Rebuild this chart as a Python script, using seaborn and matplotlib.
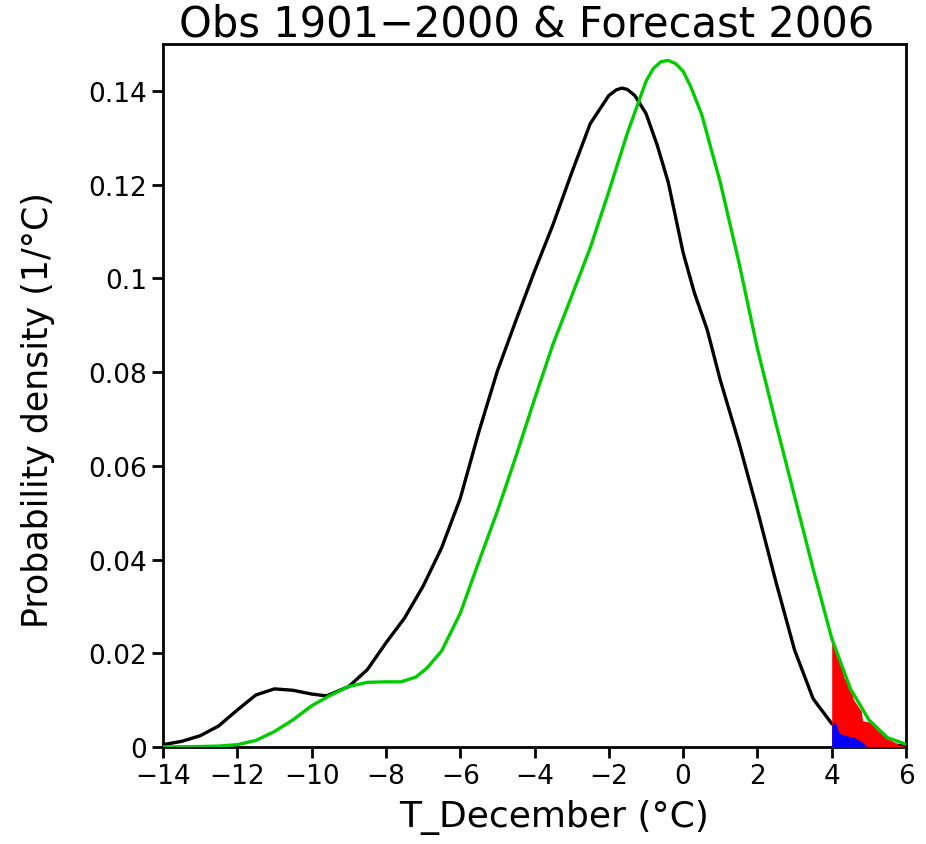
import numpy as np
import pandas as pd
import matplotlib
matplotlib.use("Agg")
import matplotlib.pyplot as plt
import seaborn as sns

# Observed 1901-2000 density (black)
obs_x = [-14.0, -13.5, -13.0, -12.5, -12.0, -11.5, -11.0, -10.5, -10.0, -9.6,
         -9.0, -8.5, -8.0, -7.5, -7.0, -6.5, -6.0, -5.5, -5.0, -4.5, -4.0,
         -3.5, -3.0, -2.5, -2.0, -1.8, -1.65, -1.5, -1.3, -1.0, -0.7, -0.4, 0.0, 0.3,
         0.65, 1.0, 1.5, 2.0, 2.5, 3.0, 3.5, 4.0, 4.5, 5.0, 5.5, 6.0]
obs_y = [0.0005, 0.0012, 0.0024, 0.0045, 0.0079, 0.0111, 0.0124, 0.0121, 0.0113, 0.0109,
         0.0129, 0.0165, 0.0222, 0.0275, 0.0343, 0.0425, 0.0530, 0.0672, 0.0802, 0.0910, 0.1015,
         0.1115, 0.1225, 0.1330, 0.1390, 0.1402, 0.1406, 0.1403, 0.1390, 0.1352, 0.1285, 0.1205, 0.1055, 0.0970,
         0.0890, 0.0783, 0.0650, 0.0505, 0.0352, 0.0207, 0.0103, 0.0050, 0.0025, 0.0012, 0.0005, 0.0002]

# Forecast 2006 density (green)
fc_x = [-14.0, -13.0, -12.5, -12.0, -11.5, -11.0, -10.5, -10.0, -9.5, -9.0,
        -8.5, -8.0, -7.6, -7.2, -6.9, -6.5, -6.0, -5.5, -5.0, -4.5, -4.0,
        -3.5, -3.0, -2.5, -2.0, -1.5, -1.0, -0.8, -0.6, -0.4, -0.2, 0.0, 0.2, 0.5,
        1.0, 1.5, 2.0, 2.5, 3.0, 3.5, 4.0, 4.5, 5.0, 5.5, 6.0]
fc_y = [0.0, 0.0001, 0.0002, 0.0005, 0.0014, 0.0033, 0.0058, 0.0088, 0.0110, 0.0129,
        0.0138, 0.0139, 0.0139, 0.0149, 0.0168, 0.0205, 0.0285, 0.0395, 0.0503, 0.0620, 0.0742,
        0.0860, 0.0962, 0.1065, 0.1185, 0.1310, 0.1420, 0.1448, 0.1462, 0.1465, 0.1458, 0.1442, 0.1410, 0.1350,
        0.1205, 0.1035, 0.0850, 0.0690, 0.0535, 0.0380, 0.0232, 0.0125, 0.0058, 0.0020, 0.0006]

# Shaded exceedance areas above 4 degC
red_x = [4.0, 4.2, 4.3, 4.32, 4.55, 4.58, 4.8, 4.83, 5.1, 5.2, 5.5, 5.8, 6.0]
red_top = [0.0226, 0.0185, 0.0163, 0.0150, 0.0118, 0.0102, 0.0076, 0.0056, 0.0052, 0.0038, 0.0018, 0.0006, 0.0]
blue_x = [4.0, 4.05, 4.1, 4.2, 4.3, 4.6, 4.8, 4.95]
blue_top = [0.0045, 0.0052, 0.0053, 0.0030, 0.0026, 0.0020, 0.0012, 0.0]

x_ticks = [-14, -12, -10, -8, -6, -4, -2, 0, 2, 4, 6]
y_ticks = [0, 0.02, 0.04, 0.06, 0.08, 0.1, 0.12, 0.14]
y_tick_labels = ["0", "0.02", "0.04", "0.06", "0.08", "0.1", "0.12", "0.14"]

sns.set_style("ticks")
plt.rcParams['font.family'] = ['DejaVu Sans']
plt.rcParams['text.color'] = 'black'
plt.rcParams['axes.labelcolor'] = 'black'
plt.rcParams['xtick.color'] = 'black'
plt.rcParams['ytick.color'] = 'black'

fig = plt.figure(figsize=(9.26, 8.45), dpi=100)
ax = fig.add_axes([163/926, 97/845, 743/926, 703/845])

obs = pd.DataFrame({"x": obs_x, "y": obs_y})
fc = pd.DataFrame({"x": fc_x, "y": fc_y})

sns.lineplot(data=obs, x="x", y="y", color="black", lw=2.4, ax=ax, zorder=2)
ax.fill_between(red_x, 0, red_top, color="#ff0000", lw=0, zorder=3)
ax.fill_between(blue_x, 0, blue_top, color="#0000ff", lw=0, zorder=4)
sns.lineplot(data=fc, x="x", y="y", color="#00cc00", lw=2.4, ax=ax, zorder=5)

ax.set_xlim(-14, 6)
ax.set_ylim(0, 0.15)
ax.set_xticks(x_ticks)
ax.set_yticks(y_ticks)
ax.set_yticklabels(y_tick_labels)
ax.tick_params(axis="both", direction="out", length=8, width=2, labelsize=19,
               color="black", labelcolor="black")
for s in ax.spines.values():
    s.set_linewidth(2)
    s.set_color("black")

ax.set_xlabel("T_December (°C)", fontsize=26, color="black")
ax.xaxis.set_label_coords(0.526, -0.074)
ax.set_ylabel("Probability density (1/°C)", fontsize=25, color="black")
ax.yaxis.set_label_coords(-0.145, 0.481)
ax.set_title("Obs 1901\u22122000 & Forecast 2006", fontsize=30, pad=2, color="black", x=0.49)

fig.savefig("out.png", dpi=100)
